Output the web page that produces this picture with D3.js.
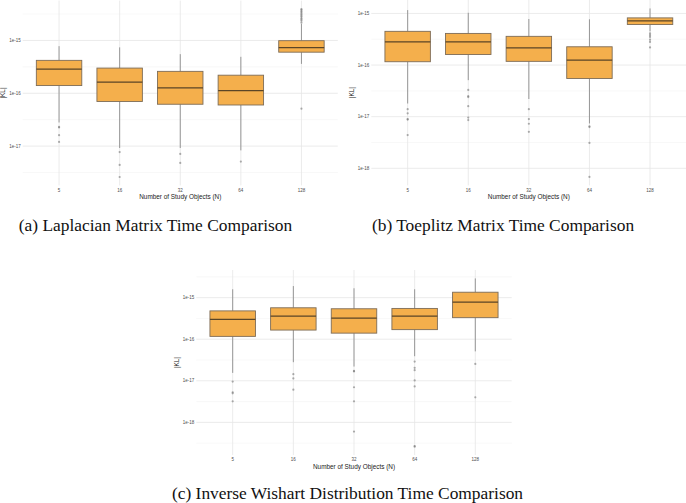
<!DOCTYPE html>
<html>
<head>
<meta charset="utf-8">
<script src="https://cdn.jsdelivr.net/npm/d3@7"></script>
<style>
  body { margin: 0; background: #fff; }
  svg { display: block; }
</style>
</head>
<body>
<svg id="chart" width="686" height="503"></svg>
<script>
// categories on the x axis
const categories = ["5", "16", "32", "64", "128"];
const yTickValues = [1e-15, 1e-16, 1e-17, 1e-18];
const yTickLabels = ["1e-15", "1e-16", "1e-17", "1e-18"];
const yMinorValues = [Math.pow(10, -14.5), Math.pow(10, -15.5), Math.pow(10, -16.5), Math.pow(10, -17.5), Math.pow(10, -18.5)];

// (a) Laplacian
const lapLow = [2.8e-17, 9.2e-18, 9.2e-18, 8.3e-18, 3.6e-16];
const lapQ1 = [1.4e-16, 7.0e-17, 6.2e-17, 6.0e-17, 6.0e-16];
const lapMed = [2.86e-16, 1.62e-16, 1.26e-16, 1.12e-16, 7.3e-16];
const lapQ3 = [4.2e-16, 3.0e-16, 2.6e-16, 2.2e-16, 9.9e-16];
const lapHigh = [7.8e-16, 7.4e-16, 5.5e-16, 4.9e-16, 2.05e-15];
const lapOut = [
  [2.32e-17, 2.25e-17, 1.61e-17, 1.2e-17],
  [7.7e-18, 4.4e-18, 2.6e-18],
  [7.1e-18, 4.8e-18],
  [5.1e-18],
  [3.94e-15, 3.8e-15, 3.61e-15, 3.45e-15, 3.27e-15, 3.1e-15, 2.94e-15, 2.8e-15, 2.63e-15, 2.5e-15, 2.37e-15, 2.17e-15, 5.1e-17]
];

// (b) Toeplitz
const toeLow = [1.8e-17, 5.1e-17, 2.2e-17, 7.4e-18, 4.5e-16];
const toeQ1 = [1.16e-16, 1.6e-16, 1.18e-16, 5.5e-17, 6.1e-16];
const toeMed = [2.8e-16, 2.8e-16, 2.16e-16, 1.25e-16, 7.2e-16];
const toeQ3 = [4.5e-16, 4.1e-16, 3.6e-16, 2.26e-16, 8.2e-16];
const toeHigh = [1.16e-15, 1.03e-15, 7.8e-16, 7.7e-16, 1.25e-15];
const toeOut = [
  [1.4e-17, 1.16e-17, 9.0e-18, 8.8e-18, 4.4e-18],
  [3.3e-17, 2.5e-17, 2.4e-17, 1.6e-17, 9.6e-18, 8.6e-18],
  [1.4e-17, 9.0e-18, 7.3e-18, 5.1e-18],
  [6.5e-18, 6.3e-18, 3.1e-18, 6.8e-19],
  [4.1e-16, 3.8e-16, 3.5e-16, 3.1e-16, 2.8e-16, 2.2e-16]
];

// (c) Inverse Wishart
const wisLow = [1.55e-17, 2.8e-17, 2.2e-17, 3.9e-17, 5.1e-17];
const wisQ1 = [1.17e-16, 1.66e-16, 1.4e-16, 1.7e-16, 3.3e-16];
const wisMed = [3.0e-16, 3.6e-16, 3.2e-16, 3.6e-16, 7.8e-16];
const wisQ3 = [4.8e-16, 5.7e-16, 5.4e-16, 5.5e-16, 1.35e-15];
const wisHigh = [1.59e-15, 1.9e-15, 1.68e-15, 1.59e-15, 2.9e-15];
const wisOut = [
  [9.6e-18, 5.3e-18, 5.0e-18, 3.2e-18],
  [1.44e-17, 1.14e-17, 6.1e-18],
  [1.73e-17, 1.68e-17, 7.0e-18, 3.2e-18, 6.0e-19],
  [2.9e-17, 2.05e-17, 1.8e-17, 1.02e-17, 7.3e-18, 2.7e-19, 2.6e-19],
  [2.55e-17, 4.0e-18]
];

const panels = [
  { low: lapLow, q1: lapQ1, med: lapMed, q3: lapQ3, high: lapHigh, out: lapOut,
    left: 22.7, right: 337.8, top: 0.6, bottom: 185.4, titleX: 4.8,
    caption: "(a) Laplacian Matrix Time Comparison", capX: 155.5, capY: 231 },
  { low: toeLow, q1: toeQ1, med: toeMed, q3: toeQ3, high: toeHigh, out: toeOut,
    left: 371.3, right: 686.4, top: 0, bottom: 185.4, titleX: 354,
    caption: "(b) Toeplitz Matrix Time Comparison", capX: 503, capY: 231 },
  { low: wisLow, q1: wisQ1, med: wisMed, q3: wisQ3, high: wisHigh, out: wisOut,
    left: 196.3, right: 511.7, top: 270, bottom: 455.1, titleX: 178.8,
    caption: "(c) Inverse Wishart Distribution Time Comparison", capX: 347.5, capY: 499 }
];

const svg = d3.select("#chart");
svg.append("rect").attr("width", 686).attr("height", 503).attr("fill", "#fff");

const boxFill = "#f4af4c";

panels.forEach((p) => {
  const g = svg.append("g");

  // y domain from data, 5% expansion in log space (like ggplot)
  const all = [].concat(p.low, p.high, ...p.out).map((v) => Math.log10(v));
  const lo = d3.min(all), hi = d3.max(all), pad = (hi - lo) * 0.05;
  const yScale = d3.scaleLog()
    .domain([Math.pow(10, hi + pad), Math.pow(10, lo - pad)])
    .range([p.top, p.bottom]);

  const xScale = d3.scalePoint()
    .domain(categories)
    .range([p.left, p.right])
    .padding(0.6);
  const bw = xScale.step() * 0.75;

  const inDomain = (v) => v <= yScale.domain()[0] && v >= yScale.domain()[1];

  // grid lines
  g.selectAll(".minor")
    .data(yMinorValues.filter(inDomain))
    .enter().append("line")
    .attr("x1", p.left).attr("x2", p.right)
    .attr("y1", (d) => yScale(d)).attr("y2", (d) => yScale(d))
    .attr("stroke", "#f1f1f1").attr("stroke-width", 0.5);

  const ticks = yTickValues.map((v, i) => ({ v, label: yTickLabels[i] })).filter((d) => inDomain(d.v));

  g.selectAll(".major")
    .data(ticks)
    .enter().append("line")
    .attr("x1", p.left).attr("x2", p.right)
    .attr("y1", (d) => yScale(d.v)).attr("y2", (d) => yScale(d.v))
    .attr("stroke", "#e6e6e6").attr("stroke-width", 0.8);

  g.selectAll(".vgrid")
    .data(categories)
    .enter().append("line")
    .attr("x1", (d) => xScale(d)).attr("x2", (d) => xScale(d))
    .attr("y1", p.top).attr("y2", p.bottom)
    .attr("stroke", "#e6e6e6").attr("stroke-width", 0.8);

  // y tick labels
  g.selectAll(".ylab")
    .data(ticks)
    .enter().append("text")
    .attr("x", p.left - 2)
    .attr("y", (d) => yScale(d.v) + 1.5)
    .attr("text-anchor", "end")
    .style("font-family", "Liberation Sans, Arial, sans-serif")
    .style("font-size", "4.5px")
    .attr("fill", "#4d4d4d")
    .text((d) => d.label);

  // x tick labels
  g.selectAll(".xlab")
    .data(categories)
    .enter().append("text")
    .attr("x", (d) => xScale(d))
    .attr("y", p.bottom + 6.3)
    .attr("text-anchor", "middle")
    .style("font-family", "Liberation Sans, Arial, sans-serif")
    .style("font-size", "4.5px")
    .attr("fill", "#4d4d4d")
    .text((d) => d);

  // axis titles
  g.append("text")
    .attr("x", (p.left + p.right) / 2)
    .attr("y", p.bottom + 13.6)
    .attr("text-anchor", "middle")
    .style("font-family", "Liberation Sans, Arial, sans-serif")
    .style("font-size", "6.4px")
    .attr("fill", "#222")
    .text("Number of Study Objects (N)");

  g.append("text")
    .attr("transform", `translate(${p.titleX},${(p.top + p.bottom) / 2}) rotate(-90)`)
    .attr("text-anchor", "middle")
    .style("font-family", "Liberation Sans, Arial, sans-serif")
    .style("font-size", "6.4px")
    .attr("fill", "#222")
    .text("|KL|");

  // boxes
  const rows = categories.map((c, i) => ({
    c, low: p.low[i], q1: p.q1[i], med: p.med[i], q3: p.q3[i], high: p.high[i], out: p.out[i]
  }));

  const box = g.selectAll(".box").data(rows).enter().append("g");

  box.append("line")
    .attr("x1", (d) => xScale(d.c)).attr("x2", (d) => xScale(d.c))
    .attr("y1", (d) => yScale(d.high)).attr("y2", (d) => yScale(d.q3))
    .attr("stroke", "#808080").attr("stroke-width", 0.8);

  box.append("line")
    .attr("x1", (d) => xScale(d.c)).attr("x2", (d) => xScale(d.c))
    .attr("y1", (d) => yScale(d.q1)).attr("y2", (d) => yScale(d.low))
    .attr("stroke", "#808080").attr("stroke-width", 0.8);

  box.append("rect")
    .attr("x", (d) => xScale(d.c) - bw / 2)
    .attr("y", (d) => yScale(d.q3))
    .attr("width", bw)
    .attr("height", (d) => yScale(d.q1) - yScale(d.q3))
    .attr("fill", boxFill)
    .attr("stroke", "#7d6c57")
    .attr("stroke-width", 0.9);

  box.append("line")
    .attr("x1", (d) => xScale(d.c) - bw / 2).attr("x2", (d) => xScale(d.c) + bw / 2)
    .attr("y1", (d) => yScale(d.med)).attr("y2", (d) => yScale(d.med))
    .attr("stroke", "#5a4526").attr("stroke-width", 1.3);

  // outliers
  box.selectAll(".pt")
    .data((d) => d.out.map((v) => ({ c: d.c, v })))
    .enter().append("circle")
    .attr("cx", (d) => xScale(d.c))
    .attr("cy", (d) => yScale(d.v))
    .attr("r", 1.1)
    .attr("fill", "#777")
    .attr("fill-opacity", 0.6);

  // caption
  svg.append("text")
    .attr("x", p.capX)
    .attr("y", p.capY)
    .attr("text-anchor", "middle")
    .style("font-family", "Liberation Serif, Times New Roman, serif")
    .style("font-size", "17.4px")
    .attr("fill", "#111")
    .text(p.caption);
});
</script>
</body>
</html>
